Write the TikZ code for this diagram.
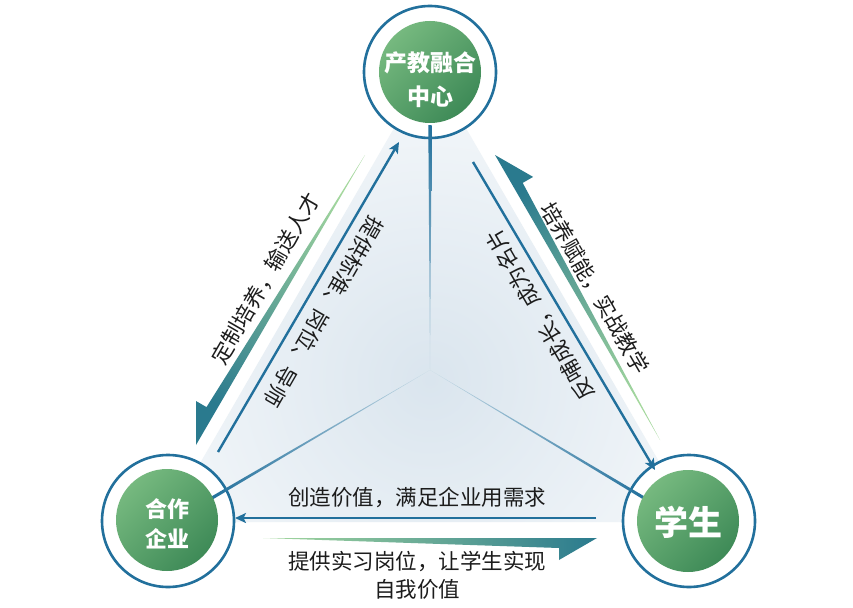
\documentclass[tikz,border=0pt]{standalone}
\usepackage{fontspec}
\setmainfont{Noto Sans CJK SC}
\usetikzlibrary{arrows.meta,calc}
\definecolor{ringblue}{HTML}{22709C}
\definecolor{gLight}{HTML}{76B97F}
\definecolor{gDark}{HTML}{3E8A57}
\definecolor{aLight}{HTML}{A5D89E}
\definecolor{aDark}{HTML}{2A7A8E}
\definecolor{bgBlue}{HTML}{DAE5EE}
\definecolor{txt}{HTML}{1C1C1C}
\begin{document}
\begin{tikzpicture}[x=1pt,y=-1pt,
  ringnode/.style={circle,draw=ringblue,line width=2.6pt,fill=white,minimum size=#1,inner sep=0pt},
  discnode/.style={circle,minimum size=#1,inner sep=0pt,top color=gLight,bottom color=gDark,shading angle=45},
  disctext/.style={text=white,align=center,inner sep=0pt},
  barrow/.style={draw=ringblue,line width=2.4pt,-{Stealth[length=11pt,width=10pt,inset=2.5pt]}},
  lbl/.style={text=txt,font=\fontsize{21.5}{28}\selectfont,inner sep=0pt,align=center},
]
\useasboundingbox (0,0) rectangle (853,607);
\fill[white] (0,0) rectangle (853,607);

% background triangle with radial shading
\coordinate (c) at (430,370);
\begin{scope}
  \clip (430,66) -- (166,522) -- (694,522) -- cycle;
  \shade[inner color=bgBlue,outer color=white] (430,380) circle (420);
\end{scope}

% rings
\node[ringnode=132] (ringT) at (430,72) {};
\node[ringnode=132] (ringL) at (168,521) {};
\node[ringnode=132] (ringR) at (689,521) {};

% tapered spokes
\shade[top color=ringblue,bottom color=ringblue!25] (c) -- ($(430,125)+(-1.7,0)$) -- ($(430,125)+(1.7,0)$) -- cycle;
\coordinate (sL) at (212,498);
\coordinate (sR) at (644,498);
\shade[left color=ringblue,right color=ringblue!25] (c) -- ($(sL)!1.6pt!90:(c)$) -- ($(sL)!1.6pt!-90:(c)$) -- cycle;
\shade[left color=ringblue!25,right color=ringblue] (c) -- ($(sR)!1.6pt!90:(c)$) -- ($(sR)!1.6pt!-90:(c)$) -- cycle;

% green discs with titles
\node[discnode=102] (discT) at (430,72) {};
\node[discnode=102] (discL) at (167,520) {};
\node[discnode=102] (discR) at (688,521) {};
\node[disctext,font=\bfseries\fontsize{23}{34}\selectfont] (tT) at (430,80) {产教融合\\中心};
\node[disctext,font=\bfseries\fontsize{22}{30}\selectfont] (tL) at (167,524) {合作\\企业};
\node[disctext,font=\bfseries\fontsize{34}{40}\selectfont] (tR) at (688,522) {学生};

% blue arrows
\coordinate (bl1) at (218,452);
\coordinate (bl2) at (399,142);
\coordinate (br1) at (473,162);
\coordinate (br2) at (655,470);
\coordinate (bb1) at (596,518);
\coordinate (bb2) at (235,518);
\draw[barrow] (bl1) -- (bl2);
\draw[barrow] (br1) -- (br2);
\draw[barrow] (bb1) -- (bb2);

% green half arrows
\coordinate (gl-S) at (365,155);
\coordinate (gl-N) at (206.5,407.1);
\coordinate (gl-B) at (196.1,401.1);
\coordinate (gl-T) at (196,445);
\shade[top color=aLight,bottom color=aDark,shading angle=-30] (gl-S) -- (gl-N) -- (gl-B) -- (gl-T) -- cycle;

\coordinate (gr-S) at (660,440);
\coordinate (gr-N) at (522.7,182.9);
\coordinate (gr-B) at (533.1,176.9);
\coordinate (gr-T) at (495,155);
\shade[top color=aDark,bottom color=aLight,shading angle=30] (gr-S) -- (gr-N) -- (gr-B) -- (gr-T) -- cycle;

\coordinate (gb-S) at (263,538);
\coordinate (gb-N) at (559,548);
\coordinate (gb-B) at (559,560);
\coordinate (gb-T) at (597,538);
\shade[left color=aLight,right color=aDark] (gb-S) -- (gb-N) -- (gb-B) -- (gb-T) -- cycle;

% labels
\node[lbl,rotate=60] (t1) at (265.5,278.5) {定制培养，输送人才};
\node[lbl,rotate=240] (t2) at (324,312) {提供标准、岗位、导师};
\node[lbl,rotate=-60] (t3) at (595,288) {培养赋能，实战教学};
\node[lbl,rotate=120] (t4) at (540,315) {反哺成长，成为名片};
\node[lbl] (t5) at (417,498) {创造价值，满足企业用需求};
\node[lbl] (t6) at (417,575) {提供实习岗位，让学生实现\\自我价值};
\end{tikzpicture}
\end{document}
